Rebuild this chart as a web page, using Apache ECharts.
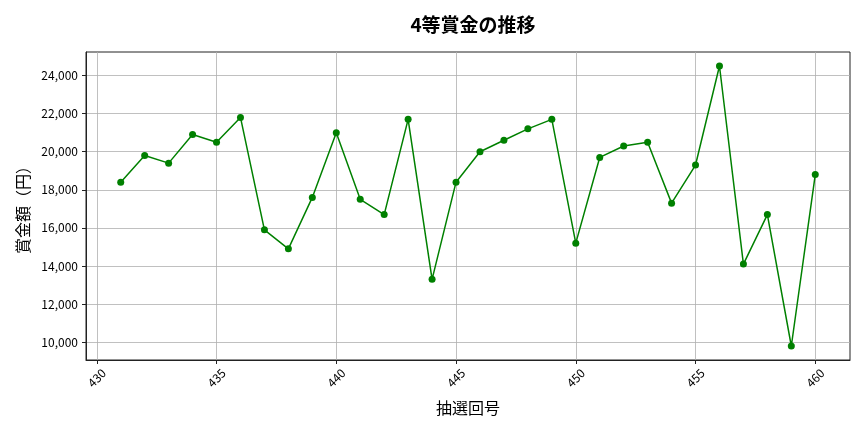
<!DOCTYPE html>
<html>
<head>
<meta charset="utf-8">
<script src="https://cdn.jsdelivr.net/npm/echarts@6/dist/echarts.min.js"></script>
<style>
html,body{margin:0;padding:0;background:#fff;}
#chart{width:864px;height:432px;}
</style>
</head>
<body>
<div id="chart"></div>
<script>
const draws = [431,432,433,434,435,436,437,438,439,440,441,442,443,444,445,446,447,448,449,450,451,452,453,454,455,456,457,458,459,460];
const prizes = [18400,19800,19400,20900,20500,21800,15900,14900,17600,21000,17500,16700,21700,13300,18400,20000,20600,21200,21700,15200,19700,20300,20500,17300,19300,24500,14100,16700,9800,18800];
const xTicks = [430,435,440,445,450,455,460];
const yTicks = [10000,12000,14000,16000,18000,20000,22000,24000];
const titleText = '4等賞金の推移';
const xName = '抽選回号';
const yName = '賞金額（円）';

const FONT = '"Noto Sans CJK JP", "Noto Sans", sans-serif';
const points = draws.map((d, i) => [d, prizes[i]]);
const xMin = 429.55, xMax = 461.45;
const yMin = 9065, yMax = 25235;

const chart = echarts.init(document.getElementById('chart'), null, {renderer: 'canvas'});
chart.setOption({
  animation: false,
  backgroundColor: '#ffffff',
  title: {
    text: titleText,
    left: 468, textAlign: 'center',
    top: 10,
    textStyle: {fontFamily: FONT, fontSize: 19, fontWeight: 'bold', color: '#000'}
  },
  grid: {
    left: 86, right: 14, top: 52, bottom: 72,
    show: true, borderColor: '#222', borderWidth: 1, backgroundColor: 'transparent'
  },
  xAxis: {
    type: 'value',
    min: xMin, max: xMax,
    name: xName, nameLocation: 'middle', nameGap: 40,
    nameTextStyle: {fontFamily: FONT, fontSize: 16, color: '#000'},
    axisLine: {show: true, onZero: false, lineStyle: {color: '#222', width: 1}},
    axisTick: {show: true, length: 4, customValues: xTicks, lineStyle: {color: '#222'}},
    axisLabel: {
      customValues: xTicks,
      rotate: 45, align: 'center', verticalAlign: 'middle', margin: 18,
      fontFamily: FONT, fontSize: 12, color: '#000',
      formatter: v => String(Math.round(v))
    },
    splitLine: {show: true, lineStyle: {color: '#b0b0b0', width: 0.8}}
  },
  yAxis: {
    type: 'value',
    min: yMin, max: yMax,
    name: yName, nameLocation: 'middle', nameGap: 55,
    nameTextStyle: {fontFamily: FONT, fontSize: 16, color: '#000'},
    axisLine: {show: true, lineStyle: {color: '#222', width: 1}},
    axisTick: {show: true, length: 4, customValues: yTicks, lineStyle: {color: '#222'}},
    axisLabel: {
      customValues: yTicks,
      margin: 8, fontFamily: FONT, fontSize: 12, color: '#000',
      formatter: v => Math.round(v).toLocaleString('en-US')
    },
    splitLine: {show: true, lineStyle: {color: '#b0b0b0', width: 0.8}}
  },
  series: [{
    type: 'line',
    data: points,
    symbol: 'circle',
    symbolSize: 7,
    showAllSymbol: true,
    lineStyle: {color: '#008000', width: 1.5},
    itemStyle: {color: '#008000'},
    z: 3
  }]
});
</script>
</body>
</html>
